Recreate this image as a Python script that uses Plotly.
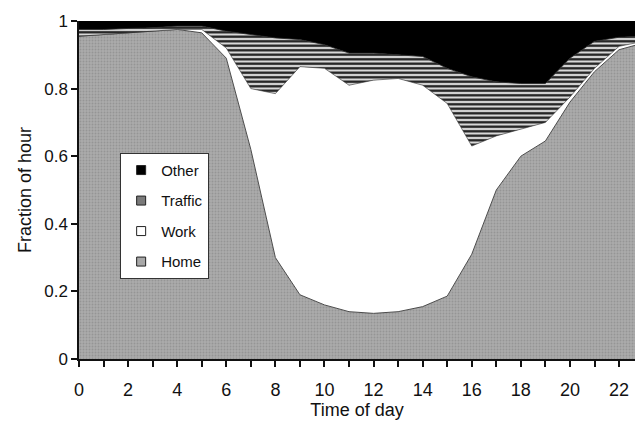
import plotly.graph_objects as go

# Hour of day
hours = list(range(24))

# Fraction of each hour spent in each activity
home = [0.955, 0.96, 0.965, 0.97, 0.975, 0.965, 0.89, 0.62, 0.30, 0.19, 0.16, 0.14,
        0.135, 0.14, 0.155, 0.186, 0.31, 0.50, 0.60, 0.645, 0.76, 0.85, 0.915, 0.935]
work = [0.0, 0.0, 0.0, 0.0, 0.0, 0.01, 0.03, 0.18, 0.485, 0.675, 0.70, 0.67,
        0.69, 0.69, 0.655, 0.57, 0.32, 0.16, 0.08, 0.055, 0.015, 0.01, 0.01, 0.005]
traffic = [0.02, 0.015, 0.013, 0.01, 0.01, 0.01, 0.05, 0.16, 0.165, 0.08, 0.07, 0.095,
           0.08, 0.07, 0.085, 0.104, 0.205, 0.16, 0.135, 0.115, 0.115, 0.08, 0.027, 0.015]
other = [0.025, 0.025, 0.022, 0.02, 0.015, 0.015, 0.03, 0.04, 0.05, 0.055, 0.07, 0.095,
         0.095, 0.10, 0.105, 0.14, 0.165, 0.18, 0.185, 0.185, 0.11, 0.06, 0.048, 0.045]

x_ticks = list(range(0, 23))
x_ticktext = [str(h) if h % 2 == 0 else "" for h in x_ticks]
y_ticks = [0, 0.2, 0.4, 0.6, 0.8, 1]
y_ticktext = ["0", "0.2", "0.4", "0.6", "0.8", "1"]

FONT = "Liberation Sans, Arial, sans-serif"

fig = go.Figure()

# Stacked areas (bottom to top)
fig.add_trace(go.Scatter(
    x=hours, y=home, name="Home", stackgroup="one", mode="lines",
    line=dict(color="#4a4a4a", width=1),
    fillcolor="#a6a6a6",
    fillpattern=dict(shape=".", size=3, solidity=0.3,
                     fgcolor="#959595", bgcolor="#ababab", fillmode="replace"),
    showlegend=False,
))
fig.add_trace(go.Scatter(
    x=hours, y=work, name="Work", stackgroup="one", mode="lines",
    line=dict(color="#333333", width=0.6),
    fillcolor="#ffffff",
    showlegend=False,
))
fig.add_trace(go.Scatter(
    x=hours, y=traffic, name="Traffic", stackgroup="one", mode="lines",
    line=dict(color="#222222", width=0.8),
    fillpattern=dict(shape="-", size=4.5, solidity=0.5,
                     fgcolor="#1a1a1a", bgcolor="#d8d8d8", fillmode="replace"),
    showlegend=False,
))
fig.add_trace(go.Scatter(
    x=hours, y=other, name="Other", stackgroup="one", mode="lines",
    line=dict(color="#000000", width=0),
    fillcolor="#000000",
    showlegend=False,
))

# Legend keys drawn as small outlined squares
legend_keys = [("Other", "#000000", 1), ("Traffic", "#7a7a7a", 2),
               ("Work", "#ffffff", 3), ("Home", "#a8a8a8", 4)]
for name, color, rank in legend_keys:
    fig.add_trace(go.Scatter(
        x=[None], y=[None], name=name, mode="markers",
        marker=dict(symbol="square", size=9, color=color,
                    line=dict(color="#222222", width=1)),
        legendgroup=name, legendrank=rank,
    ))

fig.update_layout(
    width=635, height=427,
    margin=dict(l=79, r=0, t=21, b=68),
    paper_bgcolor="white", plot_bgcolor="white",
    font=dict(family=FONT, color="#111111"),
    showlegend=True,
    legend=dict(
        x=0.074, y=0.61, xanchor="left", yanchor="top",
        traceorder="grouped", tracegroupgap=8,
        bgcolor="white", bordercolor="#333333", borderwidth=1,
        font=dict(size=15, family=FONT),
        itemwidth=30,
    ),
    xaxis=dict(
        range=[0, 22.65], tickvals=x_ticks, ticktext=x_ticktext,
        ticks="outside", ticklen=6, tickwidth=1.5, tickcolor="#111111",
        showline=True, linecolor="#111111", linewidth=1.5,
        showgrid=False, zeroline=False,
        tickfont=dict(size=18, family=FONT),
        ticklabelstandoff=8,
        title=dict(text="Time of day", font=dict(size=18, family=FONT), standoff=0),
    ),
    yaxis=dict(
        range=[0, 1], tickvals=y_ticks, ticktext=y_ticktext,
        ticks="outside", ticklen=6, tickwidth=1.5, tickcolor="#111111",
        showline=True, linecolor="#111111", linewidth=1.5,
        showgrid=False, zeroline=False,
        tickfont=dict(size=17, family=FONT),
        title=dict(text="Fraction of hour", font=dict(size=18, family=FONT), standoff=8),
    ),
)

fig.write_html("out.html")
